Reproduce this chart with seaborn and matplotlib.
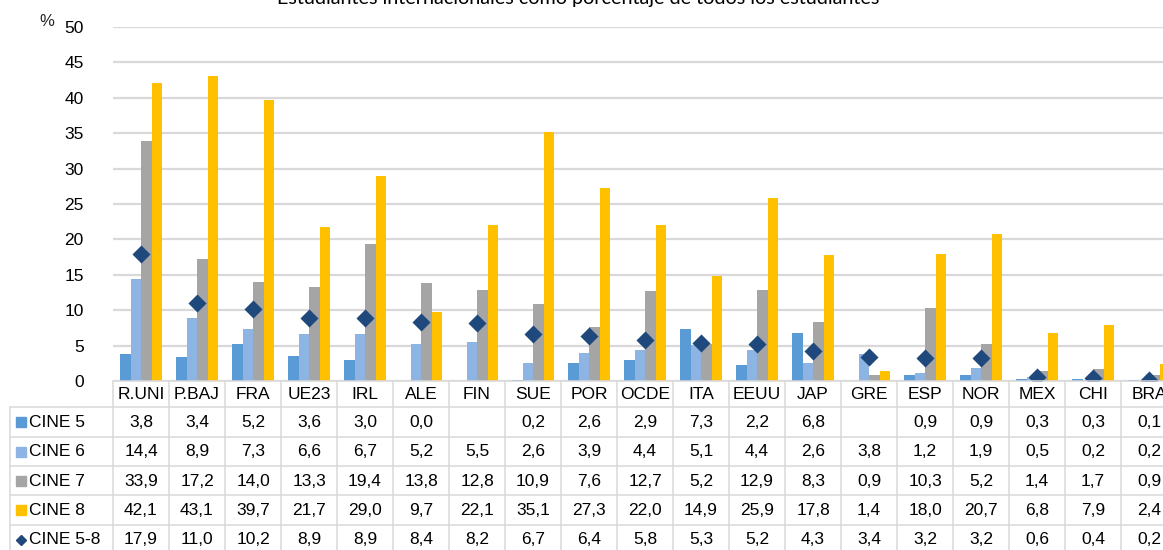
import numpy as np
import pandas as pd
import matplotlib
matplotlib.use("Agg")
import matplotlib.pyplot as plt
import seaborn as sns

# Data: international students as a share of all students, by ISCED level
countries = ["R.UNI", "P.BAJ", "FRA", "UE23", "IRL", "ALE", "FIN", "SUE", "POR",
             "OCDE", "ITA", "EEUU", "JAP", "GRE", "ESP", "NOR", "MEX", "CHI", "BRA"]
cine5 = [3.8, 3.4, 5.2, 3.6, 3.0, 0.0, np.nan, 0.2, 2.6, 2.9, 7.3, 2.2, 6.8, np.nan, 0.9, 0.9, 0.3, 0.3, 0.1]
cine6 = [14.4, 8.9, 7.3, 6.6, 6.7, 5.2, 5.5, 2.6, 3.9, 4.4, 5.1, 4.4, 2.6, 3.8, 1.2, 1.9, 0.5, 0.2, 0.2]
cine7 = [33.9, 17.2, 14.0, 13.3, 19.4, 13.8, 12.8, 10.9, 7.6, 12.7, 5.2, 12.9, 8.3, 0.9, 10.3, 5.2, 1.4, 1.7, 0.9]
cine8 = [42.1, 43.1, 39.7, 21.7, 29.0, 9.7, 22.1, 35.1, 27.3, 22.0, 14.9, 25.9, 17.8, 1.4, 18.0, 20.7, 6.8, 7.9, 2.4]
cine5_8 = [17.9, 11.0, 10.2, 8.9, 8.9, 8.4, 8.2, 6.7, 6.4, 5.8, 5.3, 5.2, 4.3, 3.4, 3.2, 3.2, 0.6, 0.4, 0.2]

bar_levels = ["CINE 5", "CINE 6", "CINE 7", "CINE 8"]
total_level = "CINE 5-8"
title = "Estudiantes internacionales como porcentaje de todos los estudiantes"

colors = {"CINE 5": "#5B9BD5", "CINE 6": "#8EB4E3", "CINE 7": "#A5A5A5", "CINE 8": "#FFC000"}
diamond_color = "#1F497D"
grid_color = "#D9D9D9"

long = pd.DataFrame({
    "pais": countries * 4,
    "nivel": sum([[lvl] * len(countries) for lvl in bar_levels], []),
    "valor": cine5 + cine6 + cine7 + cine8,
})
totals = pd.DataFrame({"pais": countries, "valor": cine5_8})

sns.set_theme(style="white")
plt.rcParams["font.family"] = ["Liberation Sans", "DejaVu Sans"]

W, H = 1163, 550
fig = plt.figure(figsize=(W / 100, H / 100), dpi=100)

# Geometry in pixels
x0 = 113          # left edge of first category column
cw = 56           # category column width
y_zero = 381      # pixel row of value 0
y_top = 27        # pixel row of value 50
n = len(countries)

ax = fig.add_axes([x0 / W, (H - y_zero) / H, n * cw / W, (y_zero - y_top) / H])

sns.barplot(data=long, x="pais", y="valor", hue="nivel", order=countries,
            hue_order=bar_levels, palette=colors, width=0.75, saturation=1,
            errorbar=None, legend=False, ax=ax, zorder=3)
for p in ax.patches:
    p.set_edgecolor("none")

sns.stripplot(data=totals, x="pais", y="valor", order=countries, jitter=False,
              marker="D", size=9.2, color=diamond_color, linewidth=0, ax=ax, zorder=5)

ax.set_xlim(-0.5, n - 0.5)
ax.set_ylim(0, 50)
ax.set_yticks(np.arange(0, 51, 5))
ax.yaxis.grid(True, color=grid_color, linewidth=1.6, zorder=0)
ax.set_axisbelow(True)
ax.tick_params(axis="y", length=0, pad=21, labelsize=12.5, labelcolor="#000000")
ax.set_xticks([])
ax.set_xlabel("")
ax.set_ylabel("")
for s in ax.spines.values():
    s.set_visible(False)

fig.text(47 / W, 1 - 22 / H, "%", fontsize=12, ha="center", va="center")
fig.text(578 / W, 1 - 4 / H, title, fontsize=14.2, ha="center", va="baseline",
         family=["Lato", "DejaVu Sans"], color="#000000")

# Data table below the chart, aligned to the same category columns
tab = fig.add_axes([0, 0, 1, (H - y_zero) / H])
tab.set_xlim(-0.5 - x0 / cw, -0.5 + (W - x0) / cw)
tab.set_ylim(H, y_zero)
tab.axis("off")

line_kw = dict(color=grid_color, linewidth=1.1, clip_on=False)
left_px = 10
left_x = -0.5 - (x0 - left_px) / cw
rows_y = [381, 407, 436.5, 466, 495, 524.5, 554]
tab.plot([-0.5, n - 0.5], [rows_y[0], rows_y[0]], **line_kw)
for yy in rows_y[1:]:
    tab.plot([left_x, n - 0.5], [yy, yy], **line_kw)
for k in range(n + 1):
    tab.plot([k - 0.5, k - 0.5], [rows_y[0], H + 5], **line_kw)
tab.plot([left_x, left_x], [rows_y[1], H + 5], **line_kw)

fs = 12.5
header_y = (rows_y[0] + rows_y[1]) / 2 + 0.5
for i, c in enumerate(countries):
    tab.text(i, header_y, c, ha="center", va="center", fontsize=fs, color="#000000")


def fmt(v):
    return "" if np.isnan(v) else f"{v:.1f}".replace(".", ",")


row_series = [("CINE 5", cine5), ("CINE 6", cine6), ("CINE 7", cine7),
              ("CINE 8", cine8), (total_level, cine5_8)]
key_x = -0.5 - (x0 - 21) / cw
label_x = -0.5 - (x0 - 29) / cw
for r, (name, vals) in enumerate(row_series):
    yc = (rows_y[r + 1] + rows_y[r + 2]) / 2 + 0.5
    if name == total_level:
        tab.plot([key_x], [yc], marker="D", markersize=5.5, color=diamond_color,
                 linestyle="none", clip_on=False)
    else:
        tab.plot([key_x], [yc], marker="s", markersize=6.5, color=colors[name],
                 linestyle="none", clip_on=False)
    tab.text(label_x, yc, name, ha="left", va="center", fontsize=fs, color="#000000")
    for i, v in enumerate(vals):
        tab.text(i, yc, fmt(v), ha="center", va="center", fontsize=fs, color="#000000")

fig.savefig("out.png", dpi=100)
